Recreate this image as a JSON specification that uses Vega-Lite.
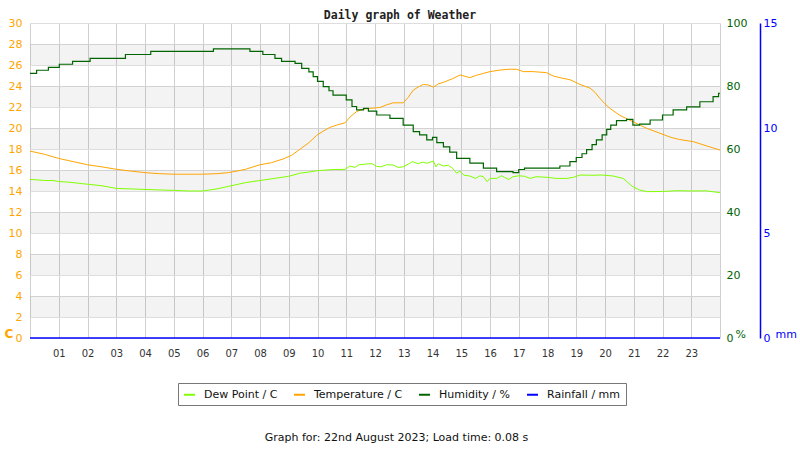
{
  "$schema": "https://vega.github.io/schema/vega-lite/v6.json",
  "width": 690,
  "height": 315,
  "autosize": {"type": "none"},
  "padding": {"left": 30, "top": 23, "right": 80, "bottom": 112},
  "background": "white",
  "title": {"text": "Daily graph of Weather", "font": "DejaVu Sans Mono", "fontSize": 11.5, "fontWeight": "bold", "color": "#222222", "anchor": "middle", "dx": 25, "offset": -4},
  "config": {
    "view": {"stroke": null},
    "axis": {"labelFont": "DejaVu Sans", "titleFont": "DejaVu Sans", "labelFontSize": 11},
    "axisX": {
      "values": [0, 1, 2, 3, 4, 5, 6, 7, 8, 9, 10, 11, 12, 13, 14, 15, 16, 17, 18, 19, 20, 21, 22, 23, 24],
      "labelOverlap": false, "labelFlush": false,
      "grid": true, "gridColor": "#d0d0d0", "gridWidth": 1, "domain": false, "ticks": false,
      "labelColor": "#333333", "labelFontSize": 10, "labelPadding": 10
    },
    "legend": {"labelFont": "DejaVu Sans"}
  },
  "datasets": {
    "bands": [
      {"b0": 2, "b1": 4}, {"b0": 6, "b1": 8}, {"b0": 10, "b1": 12}, {"b0": 14, "b1": 16},
      {"b0": 18, "b1": 20}, {"b0": 22, "b1": 24}, {"b0": 26, "b1": 28}
    ],
    "dew": [
      {"h": 0, "v": 15.1}, {"h": 0.3, "v": 15.05}, {"h": 0.5, "v": 15.0}, {"h": 0.8, "v": 15.0}, {"h": 1.0, "v": 14.9},
      {"h": 1.3, "v": 14.85}, {"h": 1.5, "v": 14.8}, {"h": 1.8, "v": 14.7}, {"h": 2.0, "v": 14.65}, {"h": 2.5, "v": 14.5},
      {"h": 3.0, "v": 14.25}, {"h": 3.5, "v": 14.2}, {"h": 4.0, "v": 14.15}, {"h": 4.5, "v": 14.1}, {"h": 5.0, "v": 14.06},
      {"h": 5.5, "v": 14.0}, {"h": 6.0, "v": 14.0}, {"h": 6.5, "v": 14.2}, {"h": 7.0, "v": 14.5}, {"h": 7.5, "v": 14.8},
      {"h": 8.0, "v": 15.0}, {"h": 8.5, "v": 15.2}, {"h": 9.0, "v": 15.4}, {"h": 9.4, "v": 15.7}, {"h": 9.7, "v": 15.8},
      {"h": 9.97, "v": 15.93}, {"h": 10.3, "v": 16.0}, {"h": 10.6, "v": 16.05}, {"h": 10.96, "v": 16.06}, {"h": 11.13, "v": 16.38},
      {"h": 11.3, "v": 16.25}, {"h": 11.45, "v": 16.5}, {"h": 11.7, "v": 16.57}, {"h": 11.9, "v": 16.6}, {"h": 12.05, "v": 16.35},
      {"h": 12.2, "v": 16.3}, {"h": 12.4, "v": 16.5}, {"h": 12.63, "v": 16.48}, {"h": 12.8, "v": 16.25}, {"h": 12.98, "v": 16.3},
      {"h": 13.15, "v": 16.55}, {"h": 13.3, "v": 16.8}, {"h": 13.5, "v": 16.6}, {"h": 13.65, "v": 16.75}, {"h": 13.8, "v": 16.64},
      {"h": 14.03, "v": 16.85}, {"h": 14.12, "v": 16.3}, {"h": 14.2, "v": 16.6}, {"h": 14.38, "v": 16.38}, {"h": 14.55, "v": 16.45},
      {"h": 14.7, "v": 16.16}, {"h": 14.84, "v": 15.7}, {"h": 14.95, "v": 15.9}, {"h": 15.1, "v": 15.5}, {"h": 15.3, "v": 15.43},
      {"h": 15.5, "v": 15.2}, {"h": 15.65, "v": 15.45}, {"h": 15.77, "v": 15.36}, {"h": 15.9, "v": 14.9}, {"h": 16.0, "v": 15.2},
      {"h": 16.23, "v": 15.2}, {"h": 16.4, "v": 15.45}, {"h": 16.5, "v": 15.3}, {"h": 16.65, "v": 15.1}, {"h": 16.8, "v": 15.36},
      {"h": 17.0, "v": 15.45}, {"h": 17.2, "v": 15.4}, {"h": 17.4, "v": 15.2}, {"h": 17.6, "v": 15.36}, {"h": 18.0, "v": 15.3},
      {"h": 18.3, "v": 15.2}, {"h": 18.67, "v": 15.2}, {"h": 18.9, "v": 15.3}, {"h": 19.13, "v": 15.52}, {"h": 19.5, "v": 15.5},
      {"h": 19.9, "v": 15.52}, {"h": 20.28, "v": 15.43}, {"h": 20.63, "v": 15.2}, {"h": 20.8, "v": 14.8}, {"h": 20.97, "v": 14.4},
      {"h": 21.2, "v": 14.1}, {"h": 21.45, "v": 13.94}, {"h": 22.0, "v": 13.95}, {"h": 22.5, "v": 14.03}, {"h": 23.0, "v": 14.0},
      {"h": 23.5, "v": 14.02}, {"h": 24.0, "v": 13.84}
    ],
    "temp": [
      {"h": 0, "v": 17.8}, {"h": 0.5, "v": 17.5}, {"h": 1.0, "v": 17.1}, {"h": 1.5, "v": 16.8}, {"h": 2.0, "v": 16.5},
      {"h": 2.5, "v": 16.3}, {"h": 3.0, "v": 16.07}, {"h": 3.5, "v": 15.9}, {"h": 4.0, "v": 15.75}, {"h": 4.5, "v": 15.65},
      {"h": 5.0, "v": 15.6}, {"h": 5.5, "v": 15.6}, {"h": 6.0, "v": 15.6}, {"h": 6.5, "v": 15.65}, {"h": 6.9, "v": 15.75},
      {"h": 7.2, "v": 15.9}, {"h": 7.5, "v": 16.07}, {"h": 8.0, "v": 16.5}, {"h": 8.4, "v": 16.7}, {"h": 8.8, "v": 17.05},
      {"h": 9.1, "v": 17.4}, {"h": 9.4, "v": 18.0}, {"h": 9.7, "v": 18.6}, {"h": 9.97, "v": 19.3}, {"h": 10.2, "v": 19.7},
      {"h": 10.43, "v": 20.06}, {"h": 10.7, "v": 20.3}, {"h": 10.96, "v": 20.5}, {"h": 11.15, "v": 21.1}, {"h": 11.36, "v": 21.56},
      {"h": 11.6, "v": 21.8}, {"h": 11.83, "v": 21.87}, {"h": 12.17, "v": 21.95}, {"h": 12.4, "v": 22.2}, {"h": 12.63, "v": 22.4},
      {"h": 12.98, "v": 22.4}, {"h": 13.15, "v": 22.9}, {"h": 13.33, "v": 23.6}, {"h": 13.5, "v": 23.9}, {"h": 13.68, "v": 24.15},
      {"h": 13.85, "v": 24.1}, {"h": 14.03, "v": 23.9}, {"h": 14.2, "v": 24.2}, {"h": 14.38, "v": 24.35}, {"h": 14.7, "v": 24.7},
      {"h": 14.96, "v": 25.05}, {"h": 15.3, "v": 24.8}, {"h": 15.5, "v": 25.0}, {"h": 15.77, "v": 25.2}, {"h": 16.0, "v": 25.37},
      {"h": 16.35, "v": 25.52}, {"h": 16.7, "v": 25.6}, {"h": 16.93, "v": 25.59}, {"h": 17.16, "v": 25.37}, {"h": 17.5, "v": 25.37},
      {"h": 17.97, "v": 25.27}, {"h": 18.2, "v": 24.95}, {"h": 18.5, "v": 24.75}, {"h": 18.78, "v": 24.6}, {"h": 19.13, "v": 24.15},
      {"h": 19.48, "v": 23.8}, {"h": 19.65, "v": 23.4}, {"h": 19.83, "v": 22.8}, {"h": 20.0, "v": 22.3}, {"h": 20.17, "v": 21.87},
      {"h": 20.52, "v": 21.2}, {"h": 20.97, "v": 20.6}, {"h": 21.45, "v": 19.97}, {"h": 21.91, "v": 19.5}, {"h": 22.3, "v": 19.1},
      {"h": 22.6, "v": 18.9}, {"h": 23.07, "v": 18.7}, {"h": 23.54, "v": 18.29}, {"h": 24.0, "v": 17.9}
    ],
    "hum": [
      {"h": 0, "v": 84.0}, {"h": 0.23, "v": 85.0}, {"h": 0.64, "v": 85.9}, {"h": 1.02, "v": 86.9}, {"h": 1.48, "v": 87.8},
      {"h": 2.09, "v": 88.8}, {"h": 3.32, "v": 90.0}, {"h": 4.2, "v": 91.0}, {"h": 6.38, "v": 91.8}, {"h": 7.65, "v": 91.0},
      {"h": 8.1, "v": 90.0}, {"h": 8.52, "v": 88.8}, {"h": 8.75, "v": 87.8}, {"h": 9.22, "v": 87.2}, {"h": 9.45, "v": 85.6},
      {"h": 9.7, "v": 84.5}, {"h": 9.85, "v": 83.0}, {"h": 10.0, "v": 81.5}, {"h": 10.2, "v": 79.8}, {"h": 10.4, "v": 78.5},
      {"h": 10.54, "v": 77.1}, {"h": 11.0, "v": 75.6}, {"h": 11.2, "v": 73.5}, {"h": 11.36, "v": 72.4}, {"h": 11.6, "v": 72.9},
      {"h": 11.77, "v": 72.0}, {"h": 12.06, "v": 70.8}, {"h": 12.52, "v": 69.7}, {"h": 12.98, "v": 67.6}, {"h": 13.33, "v": 65.5},
      {"h": 13.55, "v": 64.5}, {"h": 13.8, "v": 62.9}, {"h": 14.0, "v": 63.7}, {"h": 14.15, "v": 62.0}, {"h": 14.38, "v": 60.7},
      {"h": 14.6, "v": 59.0}, {"h": 14.84, "v": 57.0}, {"h": 15.3, "v": 55.5}, {"h": 15.77, "v": 53.9}, {"h": 16.23, "v": 52.8},
      {"h": 16.8, "v": 52.5}, {"h": 17.0, "v": 53.5}, {"h": 17.2, "v": 53.9}, {"h": 18.43, "v": 54.6}, {"h": 18.78, "v": 56.0},
      {"h": 19.0, "v": 57.3}, {"h": 19.2, "v": 58.5}, {"h": 19.36, "v": 59.8}, {"h": 19.55, "v": 61.4}, {"h": 19.7, "v": 62.9},
      {"h": 19.9, "v": 64.5}, {"h": 20.06, "v": 66.2}, {"h": 20.2, "v": 67.6}, {"h": 20.4, "v": 69.0}, {"h": 20.75, "v": 69.4},
      {"h": 20.97, "v": 67.6}, {"h": 21.2, "v": 67.9}, {"h": 21.57, "v": 69.2}, {"h": 22.0, "v": 70.8}, {"h": 22.37, "v": 72.4},
      {"h": 22.84, "v": 73.4}, {"h": 23.3, "v": 75.0}, {"h": 23.76, "v": 76.6}, {"h": 23.95, "v": 77.7}, {"h": 24.0, "v": 77.7}
    ],
    "rain": [
      {"h": 0, "v": 0}, {"h": 24, "v": 0}
    ]
  },
  "layer": [
    {
      "data": {"name": "bands"},
      "mark": {"type": "rect", "fill": "#000000", "fillOpacity": 0.047},
      "encoding": {
        "y": {
          "field": "b0", "type": "quantitative",
          "scale": {"domain": [0, 30], "nice": false, "zero": false},
          "axis": {
            "orient": "left", "values": [0, 2, 4, 6, 8, 10, 12, 14, 16, 18, 20, 22, 24, 26, 28, 30],
            "grid": true, "gridColor": "#dddddd", "gridWidth": 1, "domain": false, "ticks": false,
            "labelColor": "#ffa500", "labelPadding": 8, "labelFontSize": 11,
            "title": "C", "titleColor": "#ffa500", "titleFontWeight": "bold", "titleFontSize": 12, "titleAngle": 0,
            "titleAlign": "left", "titleBaseline": "middle", "titleX": -26, "titleY": 310
          }
        },
        "y2": {"field": "b1"}
      }
    },
    {
      "data": {"name": "dew"},
      "mark": {"type": "line", "strokeWidth": 1},
      "encoding": {
        "x": {
          "field": "h", "type": "quantitative",
          "scale": {"domain": [0, 24], "nice": false, "zero": false},
          "axis": {
            "values": [0, 1, 2, 3, 4, 5, 6, 7, 8, 9, 10, 11, 12, 13, 14, 15, 16, 17, 18, 19, 20, 21, 22, 23, 24],
            "labelExpr": "datum.value == 0 || datum.value == 24 ? '' : (datum.value < 10 ? '0' + datum.value : '' + datum.value)",
            "labelOverlap": false,
            "title": "Graph for: 22nd August 2023; Load time: 0.08 s", "titleFontWeight": "normal", "titleFontSize": 11,
            "titleColor": "#111111", "titleX": 366, "titleY": 102, "titleBaseline": "alphabetic", "titleAlign": "center"
          }
        },
        "y": {"field": "v", "type": "quantitative", "scale": {"domain": [0, 30], "nice": false, "zero": false}, "axis": null},
        "color": {"datum": "Dew Point / C"}
      }
    },
    {
      "data": {"name": "temp"},
      "mark": {"type": "line", "strokeWidth": 1},
      "encoding": {
        "x": {"field": "h", "type": "quantitative", "scale": {"domain": [0, 24], "nice": false, "zero": false},
          "axis": {"values": [0, 1, 2, 3, 4, 5, 6, 7, 8, 9, 10, 11, 12, 13, 14, 15, 16, 17, 18, 19, 20, 21, 22, 23, 24], "labelOverlap": false}},
        "y": {"field": "v", "type": "quantitative", "scale": {"domain": [0, 30], "nice": false, "zero": false}, "axis": null},
        "color": {"datum": "Temperature / C"}
      }
    },
    {
      "data": {"name": "hum"},
      "mark": {"type": "line", "strokeWidth": 1.2, "interpolate": "step-after"},
      "encoding": {
        "x": {"field": "h", "type": "quantitative", "scale": {"domain": [0, 24], "nice": false, "zero": false},
          "axis": {"values": [0, 1, 2, 3, 4, 5, 6, 7, 8, 9, 10, 11, 12, 13, 14, 15, 16, 17, 18, 19, 20, 21, 22, 23, 24], "labelOverlap": false}},
        "y": {
          "field": "v", "type": "quantitative", "scale": {"domain": [0, 100], "nice": false, "zero": false},
          "axis": {
            "orient": "right", "values": [0, 20, 40, 60, 80, 100], "grid": false, "domain": false, "ticks": false,
            "labelColor": "#006400", "labelPadding": 6, "labelFontSize": 11,
            "title": "%", "titleColor": "#006400", "titleFontWeight": "normal", "titleFontSize": 11, "titleAngle": 0,
            "titleAlign": "left", "titleBaseline": "middle", "titleX": 15, "titleY": 311
          }
        },
        "color": {"datum": "Humidity / %"}
      }
    },
    {
      "data": {"name": "rain"},
      "mark": {"type": "line", "strokeWidth": 1.5},
      "encoding": {
        "x": {"field": "h", "type": "quantitative", "scale": {"domain": [0, 24], "nice": false, "zero": false},
          "axis": {"values": [0, 1, 2, 3, 4, 5, 6, 7, 8, 9, 10, 11, 12, 13, 14, 15, 16, 17, 18, 19, 20, 21, 22, 23, 24], "labelOverlap": false}},
        "y": {
          "field": "v", "type": "quantitative", "scale": {"domain": [0, 15], "nice": false, "zero": false},
          "axis": {
            "orient": "right", "offset": 40, "values": [0, 5, 10, 15], "grid": false,
            "domain": true, "domainColor": "#0000ff", "domainWidth": 1.5, "ticks": false,
            "labelColor": "#0000ff", "labelPadding": 3, "labelFontSize": 11,
            "title": "mm", "titleColor": "#0000ff", "titleFontWeight": "normal", "titleFontSize": 11, "titleAngle": 0,
            "titleAlign": "left", "titleBaseline": "middle", "titleX": 15, "titleY": 311
          }
        },
        "color": {
          "datum": "Rainfall / mm",
          "scale": {
            "domain": ["Dew Point / C", "Temperature / C", "Humidity / %", "Rainfall / mm"],
            "range": ["#80ff00", "#ffa500", "#006400", "#0000ff"]
          },
          "legend": {
            "title": null, "orient": "none", "legendX": 148, "legendY": 360, "direction": "horizontal",
            "symbolType": "stroke", "symbolStrokeWidth": 2, "symbolSize": 120,
            "labelFontSize": 11, "labelColor": "#111111", "labelOffset": 8, "columnPadding": 12,
            "strokeColor": "#777777", "fillColor": "#ffffff", "padding": 5
          }
        }
      }
    }
  ],
  "resolve": {"scale": {"y": "independent"}, "axis": {"y": "independent"}}
}
